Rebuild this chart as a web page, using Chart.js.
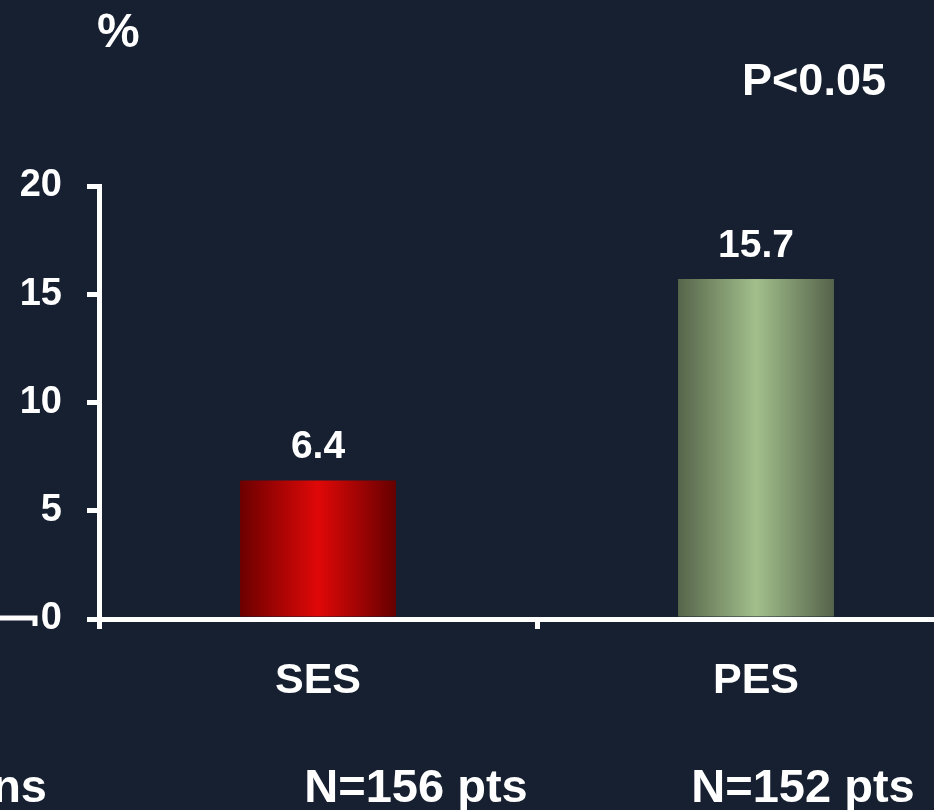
<!DOCTYPE html>
<html>
<head>
<meta charset="utf-8">
<script src="https://cdn.jsdelivr.net/npm/chart.js@4.4.1/dist/chart.umd.min.js"></script>
<style>
  html, body { margin: 0; padding: 0; background: #162030; overflow: hidden; }
  #wrap { width: 1000px; height: 810px; }
</style>
</head>
<body>
<div id="wrap"><canvas id="myChart" width="1000" height="810"></canvas></div>
<script>
// data
const categories = ["SES", "PES"];
const values = [6.4, 15.7];
const yTicks = [0, 5, 10, 15, 20];
const patients = ["N=156 pts", "N=152 pts"];

const BAR_PCT = 0.356;
const gradStops = [
  ["#6c0000", "#e00808", "#660000"],
  ["#56654a", "#a2bf8c", "#55634a"]
];

function barFill(c) {
  const ch = c.chart;
  const xs = ch.scales && ch.scales.x;
  if (c.dataIndex === undefined || !xs || !ch.chartArea) return gradStops[0][1];
  const cx = xs.getPixelForValue(c.dataIndex);
  const half = xs.width / categories.length * BAR_PCT / 2;
  const g = ch.ctx.createLinearGradient(cx - half, 0, cx + half, 0);
  const s = gradStops[c.dataIndex];
  g.addColorStop(0, s[0]);
  g.addColorStop(0.5, s[1]);
  g.addColorStop(1, s[2]);
  return g;
}

// value labels over bars + slide texts
const extras = {
  id: "extras",
  afterDatasetsDraw(chart) {
    const ctx = chart.ctx;
    const meta = chart.getDatasetMeta(0);
    ctx.save();
    ctx.fillStyle = "#ffffff";
    ctx.textAlign = "center";
    ctx.textBaseline = "alphabetic";
    ctx.font = "bold 39px 'Liberation Sans', Arial, sans-serif";
    meta.data.forEach((bar, i) => {
      ctx.fillText(values[i].toFixed(1), bar.x, bar.y - 22);
    });
    ctx.restore();
  },
  afterDraw(chart) {
    const ctx = chart.ctx;
    ctx.save();
    ctx.fillStyle = "#ffffff";
    ctx.textBaseline = "alphabetic";
    ctx.font = "bold 48px 'Liberation Sans', Arial, sans-serif";
    ctx.textAlign = "left";
    ctx.fillText("%", 97, 47);
    ctx.font = "bold 45px 'Liberation Sans', Arial, sans-serif";
    ctx.textAlign = "center";
    ctx.fillText("P<0.05", 814, 95);
    ctx.font = "bold 47px 'Liberation Sans', Arial, sans-serif";
    ctx.fillText(patients[0], 416, 802);
    ctx.fillText(patients[1], 803, 802);
    ctx.textAlign = "right";
    ctx.fillText("ns", 47, 802);
    // fragment of the neighbouring chart at the left edge
    ctx.strokeStyle = "#ffffff";
    ctx.lineWidth = 5;
    ctx.beginPath();
    ctx.moveTo(0, 618);
    ctx.lineTo(35, 618);
    ctx.lineTo(35, 626);
    ctx.stroke();
    ctx.restore();
  }
};

Chart.defaults.font.family = "'Liberation Sans', Arial, sans-serif";
Chart.defaults.color = "#ffffff";

new Chart("myChart", {
  type: "bar",
  data: {
    labels: categories,
    datasets: [{
      data: values,
      backgroundColor: barFill,
      borderWidth: 0,
      barPercentage: BAR_PCT,
      categoryPercentage: 1
    }]
  },
  options: {
    responsive: false,
    animation: false,
    layout: { padding: { top: 186, left: 0, right: 25, bottom: 71 } },
    plugins: {
      legend: { display: false },
      tooltip: { enabled: false }
    },
    scales: {
      x: {
        afterFit(scale) { scale.height = 120; },
        border: { color: "#ffffff", width: 5 },
        grid: { drawOnChartArea: false, color: "#ffffff", lineWidth: 5, tickLength: 10 },
        ticks: { color: "#ffffff", padding: 26, font: { size: 43, weight: "bold" } }
      },
      y: {
        min: 0,
        max: 20,
        afterFit(scale) { scale.width = 99; },
        afterBuildTicks(scale) { scale.ticks = yTicks.map(v => ({ value: v })); },
        border: { color: "#ffffff", width: 5 },
        grid: { drawOnChartArea: false, color: "#ffffff", lineWidth: 5, tickLength: 12 },
        ticks: { color: "#ffffff", padding: 25, font: { size: 38, weight: "bold" } }
      }
    }
  },
  plugins: [extras]
});
</script>
</body>
</html>
